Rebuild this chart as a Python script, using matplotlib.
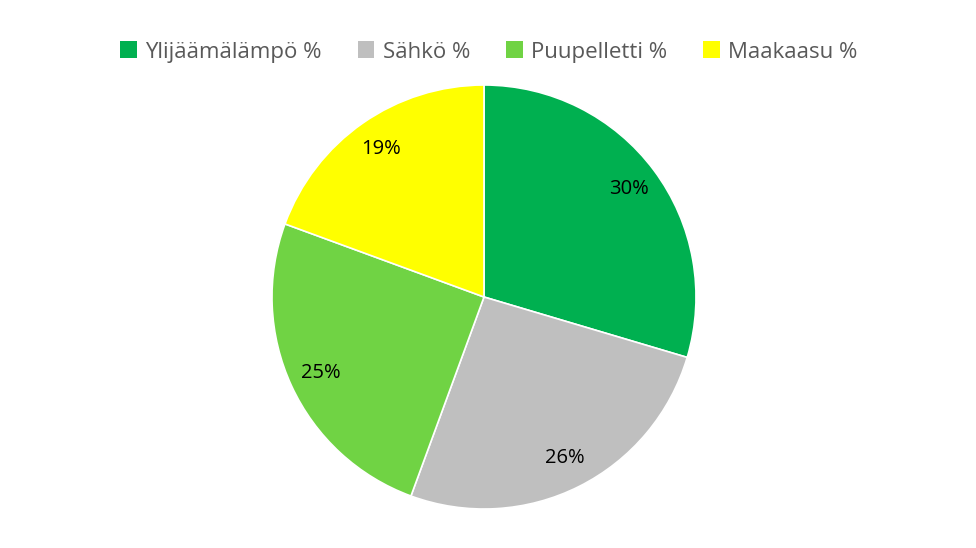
import matplotlib.pyplot as plt
from matplotlib.patches import Rectangle
from matplotlib.offsetbox import AnchoredOffsetbox, DrawingArea, HPacker, TextArea

labels = ["Ylijäämälämpö %", "Sähkö %", "Puupelletti %", "Maakaasu %"]
values = [29.6, 26.0, 25.0, 19.4]
colors = ["#00B050", "#BFBFBF", "#70D344", "#FFFF00"]

plt.rcParams["font.family"] = ["Open Sans", "DejaVu Sans"]

fig = plt.figure(figsize=(9.76, 5.48), dpi=100)
ax = fig.add_axes([272 / 976, 39 / 548, 424 / 976, 424 / 548])

wedges, texts, autotexts = ax.pie(
    values, colors=colors, startangle=90, counterclock=False,
    autopct="%.0f%%", pctdistance=0.85, radius=1.0,
    wedgeprops={"edgecolor": "white", "linewidth": 1.2},
    textprops={"fontsize": 14.5, "color": "black"},
)
ax.set_xlim(-1, 1)
ax.set_ylim(-1, 1)
ax.set_aspect("equal")

# legend in one row, baseline aligned
items = []
for lab, c in zip(labels, colors):
    da = DrawingArea(12, 12, 0, 0)
    da.add_artist(Rectangle((0, 0), 12, 12, facecolor=c, edgecolor="none"))
    ta = TextArea(lab, textprops={"fontsize": 16, "color": "#595959"})
    items.append(HPacker(children=[da, ta], align="baseline", pad=0, sep=6))
row = HPacker(children=items, align="baseline", pad=0, sep=26)
leg = AnchoredOffsetbox(loc="center", child=row, pad=0, borderpad=0, frameon=False,
                        bbox_to_anchor=(489 / 976, 1 - 52 / 548),
                        bbox_transform=fig.transFigure)
fig.add_artist(leg)

fig.savefig("out.png", dpi=100)
